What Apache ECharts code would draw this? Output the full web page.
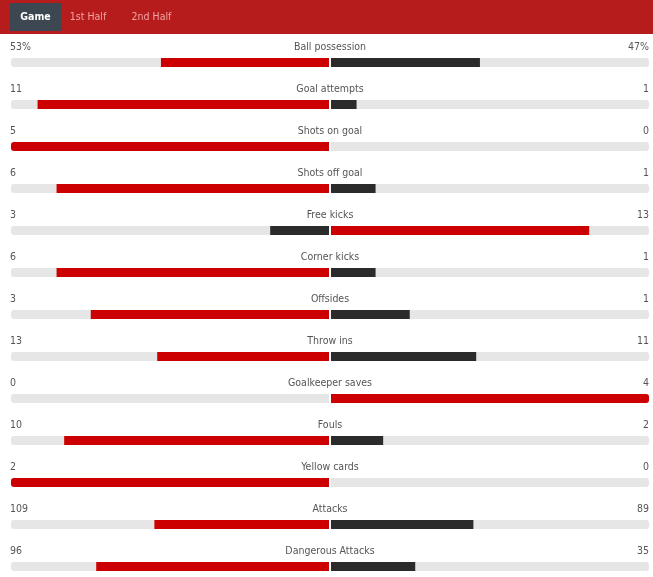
<!DOCTYPE html>
<html>
<head>
<meta charset="utf-8">
<script src="https://cdn.jsdelivr.net/npm/echarts@6/dist/echarts.min.js"></script>
<style>
html,body{margin:0;padding:0;background:#fff;}
#chart{width:653px;height:577px;}
</style>
</head>
<body>
<div id="chart"></div>
<script>
var tabs = ["Game", "1st Half", "2nd Half"];
var categories = ["Ball possession","Goal attempts","Shots on goal","Shots off goal","Free kicks","Corner kicks","Offsides","Throw ins","Goalkeeper saves","Fouls","Yellow cards","Attacks","Dangerous Attacks"];
var homeValues = [53,11,5,6,3,6,3,13,0,10,2,109,96];
var awayValues = [47,1,0,1,13,1,1,11,4,2,0,89,35];
var valueSuffix = ["%","","","","","","","","","","","",""];

var FONT = "'DejaVu Sans Condensed', 'DejaVu Sans', sans-serif";
var FS = '10.5px ';
var RED = "#cc0000", DARK = "#2b2b2b", TRACK = "#e6e6e6", TXT = "#555555";

var chart = echarts.init(document.getElementById('chart'), null, {renderer:'canvas'});

function renderItem(params, api) {
  var idx = api.value(0), h = api.value(1), a = api.value(2);
  var tot = h + a;
  var fh = tot > 0 ? h / tot : 0, fa = tot > 0 ? a / tot : 0;
  var c = api.coord([0, idx]);
  var cx = c[0], cy = c[1];
  var xl = api.coord([-1, idx])[0];
  var xr = api.coord([1, idx])[0];
  var xh = api.coord([-fh, idx])[0];
  var xa = api.coord([fa, idx])[0];
  var bh = 9, by = cy - bh / 2;
  var homeCol = h >= a ? RED : DARK;
  var awayCol = h >= a ? DARK : RED;
  var children = [
    {type:'rect', shape:{x:xl, y:by, width:(cx-1)-xl, height:bh, r:[3,0,0,3]}, style:{fill:TRACK}},
    {type:'rect', shape:{x:cx+1, y:by, width:xr-(cx+1), height:bh, r:[0,3,3,0]}, style:{fill:TRACK}}
  ];
  if (fh > 0) children.push({type:'rect', shape:{x:xh, y:by, width:Math.max(0,(cx-1)-xh), height:bh, r: fh >= 1 ? [3,0,0,3] : 0}, style:{fill:homeCol}});
  if (fa > 0) children.push({type:'rect', shape:{x:cx+1, y:by, width:Math.max(0,xa-(cx+1)), height:bh, r: fa >= 1 ? [0,3,3,0] : 0}, style:{fill:awayCol}});
  var ty = cy - 15.5;
  children.push({type:'text', style:{x:xl-1, y:ty, text:String(h)+valueSuffix[idx], fill:TXT, font:FS+FONT, textAlign:'left', textVerticalAlign:'middle'}});
  children.push({type:'text', style:{x:xr, y:ty, text:String(a)+valueSuffix[idx], fill:TXT, font:FS+FONT, textAlign:'right', textVerticalAlign:'middle'}});
  children.push({type:'text', style:{x:cx, y:ty, text:categories[idx], fill:TXT, font:FS+FONT, textAlign:'center', textVerticalAlign:'middle'}});
  return {type:'group', children:children};
}

var graphics = [
  {type:'rect', left:0, top:0, shape:{width:653, height:34}, style:{fill:'#b71c1c'}, z:10},
  {type:'rect', left:10, top:3, shape:{width:51, height:28}, style:{fill:'#3c4751'}, z:11}
];
var tabX = [35.5, 88, 151.5];
tabs.forEach(function(t, i){
  graphics.push({type:'text', x:tabX[i], y:17, z:12, style:{text:t, fill: i===0 ? '#ffffff' : '#f4a3a3', font:(i===0?'bold ':'')+FS+FONT, textAlign:'center', textVerticalAlign:'middle'}});
});

chart.setOption({
  animation:false,
  grid:{left:11, right:4, top:62.5, bottom:10.5},
  xAxis:{type:'value', min:-1, max:1, show:false},
  yAxis:{type:'value', inverse:true, min:0, max:categories.length-1, show:false},
  graphic:graphics,
  series:[{
    type:'custom',
    renderItem:renderItem,
    clip:false,
    encode:{y:0},
    data:categories.map(function(c,i){ return [i, homeValues[i], awayValues[i]]; })
  }]
});
</script>
</body>
</html>
